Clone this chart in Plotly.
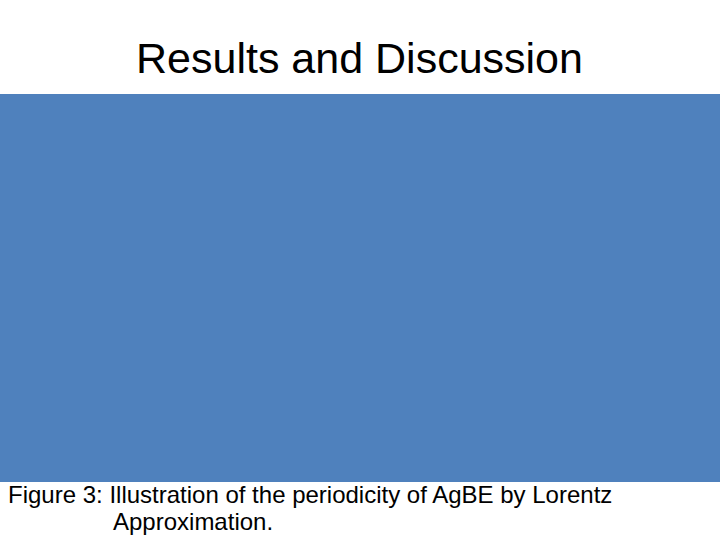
import plotly.graph_objects as go

W, H = 720, 540
title_text = "Results and Discussion"
caption_lines = ["Figure 3: Illustration of the periodicity of AgBE by Lorentz", "Approximation."]
panel_color = "#4F81BD"

fig = go.Figure()
fig.update_layout(
    width=W, height=H,
    margin=dict(l=0, r=0, t=0, b=0),
    paper_bgcolor="white", plot_bgcolor="white",
    showlegend=False,
    xaxis=dict(visible=False, range=[0, W], fixedrange=True),
    yaxis=dict(visible=False, range=[H, 0], fixedrange=True),
)

def px_x(x):
    return x / W

def px_y(y):
    return 1 - y / H

# Blue picture panel
fig.add_shape(type="rect", xref="paper", yref="paper",
              x0=px_x(0), x1=px_x(720), y0=px_y(94), y1=px_y(482),
              fillcolor=panel_color, line=dict(width=0), layer="below")

font_family = "Liberation Sans, Arial, sans-serif"

fig.add_annotation(text=title_text, xref="paper", yref="paper",
                   x=px_x(359), y=px_y(58), xanchor="center", yanchor="middle",
                   showarrow=False, font=dict(family=font_family, size=43, color="black"))

fig.add_annotation(text=caption_lines[0], xref="paper", yref="paper",
                   x=px_x(6), y=px_y(494), xanchor="left", yanchor="middle",
                   showarrow=False, font=dict(family=font_family, size=24, color="black"))
fig.add_annotation(text=caption_lines[1], xref="paper", yref="paper",
                   x=px_x(111), y=px_y(521), xanchor="left", yanchor="middle",
                   showarrow=False, font=dict(family=font_family, size=24, color="black"))

fig.write_html("out.html", config={"displayModeBar": False},
               post_script="document.body.style.margin='0';document.body.style.padding='0';document.body.style.overflow='hidden';")
